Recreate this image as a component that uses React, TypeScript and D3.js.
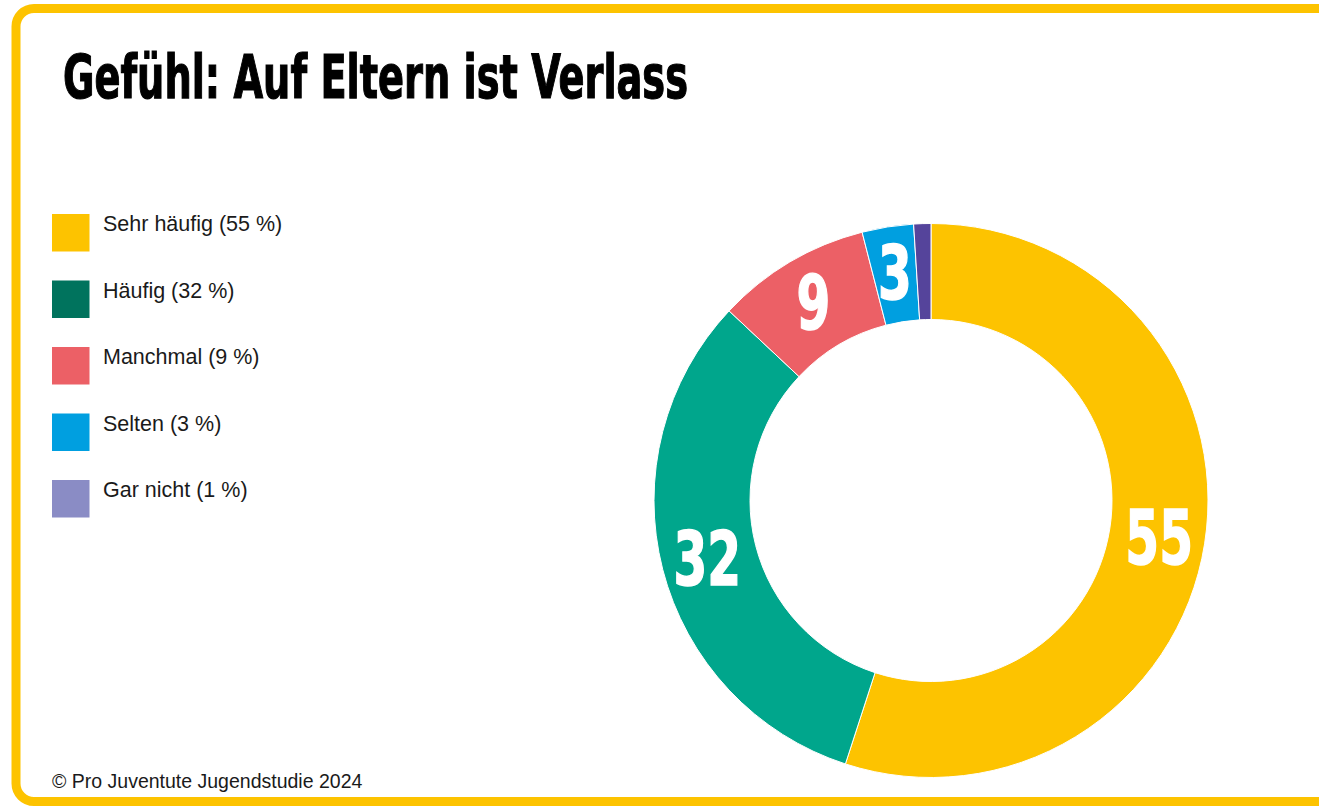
import React, { useEffect, useRef } from 'react';
import * as d3 from 'd3';

const categories = ['Sehr häufig', 'Häufig', 'Manchmal', 'Selten', 'Gar nicht'];
const values = [55, 32, 9, 3, 1];
const sliceColors = ['#fdc300', '#00a68c', '#ec6066', '#009fe0', '#55449b'];
const legendColors = ['#fdc300', '#00735d', '#ec6066', '#009fe0', '#8a8cc5'];
const labelValues = ['55', '32', '9', '3', ''];

const title = 'Gefühl: Auf Eltern ist Verlass';
const source = '© Pro Juventute Jugendstudie 2024';

function App() {
  const chartRef = useRef<SVGSVGElement>(null);

  useEffect(() => {
    const width = 1319;
    const height = 807;

    const svg = d3.select(chartRef.current)
      .attr('width', width)
      .attr('height', height);
    svg.selectAll('*').remove();

    svg.append('rect')
      .attr('width', width)
      .attr('height', height)
      .attr('fill', '#ffffff');

    // yellow frame, open to the right
    svg.append('rect')
      .attr('x', 16)
      .attr('y', 8.5)
      .attr('width', width + 40)
      .attr('height', 793)
      .attr('rx', 18)
      .attr('fill', 'none')
      .attr('stroke', '#fdc300')
      .attr('stroke-width', 9);

    const condensed = '"Liberation Sans Narrow", "DejaVu Sans Condensed", "Arial Narrow", sans-serif';

    svg.append('text')
      .attr('x', 63)
      .attr('y', 98)
      .attr('font-family', condensed)
      .attr('font-weight', 700)
      .attr('font-size', 60)
      .attr('textLength', 625)
      .attr('lengthAdjust', 'spacingAndGlyphs')
      .attr('fill', '#000')
      .attr('stroke', '#000')
      .attr('stroke-width', 1.2)
      .text(title);

    // legend
    const legend = svg.append('g').attr('transform', 'translate(52, 214)');
    const rows = legend.selectAll('g')
      .data(categories)
      .enter()
      .append('g')
      .attr('transform', (d, i) => `translate(0, ${i * 66.5})`);
    rows.append('rect')
      .attr('width', 37.5)
      .attr('height', 37.5)
      .attr('fill', (d, i) => legendColors[i]);
    rows.append('text')
      .attr('x', 51)
      .attr('y', 17)
      .attr('font-family', '"Liberation Sans", Arial, sans-serif')
      .attr('font-size', 21.5)
      .attr('fill', '#1a1a1a')
      .text((d, i) => `${d} (${values[i]} %)`);

    // donut
    const cx = 931;
    const cy = 500.5;
    const outer = 277;
    const inner = 181;

    const pie = d3.pie<number>().sort(null).value(d => d);
    const arc = d3.arc<d3.PieArcDatum<number>>().innerRadius(inner).outerRadius(outer);
    const labelArc = d3.arc<d3.PieArcDatum<number>>()
      .innerRadius((inner + outer) / 2 + 2)
      .outerRadius((inner + outer) / 2 + 2);

    const g = svg.append('g').attr('transform', `translate(${cx}, ${cy})`);
    const arcs = pie(values);

    g.selectAll('path')
      .data(arcs)
      .enter()
      .append('path')
      .attr('d', arc)
      .attr('fill', (d, i) => sliceColors[i])
      .attr('stroke', '#ffffff')
      .attr('stroke-width', 1);

    g.selectAll('.lbl')
      .data(arcs)
      .enter()
      .append('text')
      .attr('class', 'lbl')
      .attr('transform', d => `translate(${labelArc.centroid(d)}) scale(0.72, 1)`)
      .attr('text-anchor', 'middle')
      .attr('dy', '0.36em')
      .attr('font-family', condensed)
      .attr('font-weight', 700)
      .attr('font-size', 75)
      .attr('fill', '#ffffff')
      .attr('stroke', '#ffffff')
      .attr('stroke-width', 1.5)
      .text((d, i) => labelValues[i]);

    svg.append('text')
      .attr('x', 52)
      .attr('y', 788)
      .attr('font-family', '"Liberation Sans", Arial, sans-serif')
      .attr('font-size', 19.5)
      .attr('fill', '#1a1a1a')
      .text(source);
  }, []);

  return (
    <div>
      <svg ref={chartRef} style={{ position: 'absolute', left: 0, top: 0 }}></svg>
    </div>
  );
}

export default App;
